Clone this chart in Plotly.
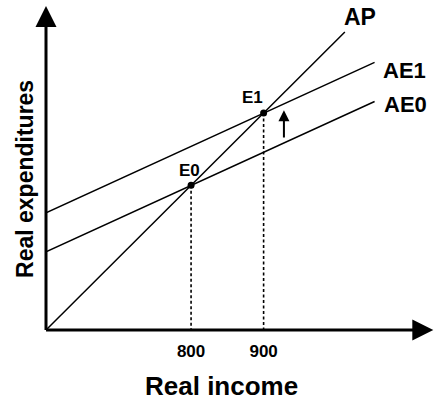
import plotly.graph_objects as go

# Data (schematic units)
ap_x = [600, 1012]
ap_y = [600, 1012]
ae_x = [600, 1053]
ae0_y = [708, 916]
ae1_y = [762, 970]
eq_x = [800, 900]
eq_y = [800, 900]
tick_vals = [800, 900]
tick_text = ["800", "900"]
shift_x = 928
shift_from = 864
shift_to = 904

X0, X1 = 600, 1141.8
Y0, Y1 = 600, 1056.3
AX_END_X, AX_END_Y = 1134, 1048

FONT = "Liberation Sans, Arial, sans-serif"

fig = go.Figure()
line_style = dict(color="black", width=1.5)
fig.add_trace(go.Scatter(x=ap_x, y=ap_y, mode="lines", line=line_style, hoverinfo="skip"))
fig.add_trace(go.Scatter(x=ae_x, y=ae0_y, mode="lines", line=line_style, hoverinfo="skip"))
fig.add_trace(go.Scatter(x=ae_x, y=ae1_y, mode="lines", line=line_style, hoverinfo="skip"))
for ex, ey in zip(eq_x, eq_y):
    fig.add_trace(go.Scatter(x=[ex, ex], y=[ey, Y0], mode="lines",
                             line=dict(color="black", width=1.6, dash="3px,2.5px"),
                             hoverinfo="skip"))
fig.add_trace(go.Scatter(x=eq_x, y=eq_y, mode="markers",
                         marker=dict(color="black", size=7), hoverinfo="skip"))

ann = []
# axes with arrows
ann.append(dict(x=AX_END_X, y=Y0, ax=X0 - 2, ay=Y0, xref="x", yref="y", axref="x", ayref="y",
                showarrow=True, arrowhead=2, arrowsize=1.4, arrowwidth=3, arrowcolor="black", text=""))
ann.append(dict(x=X0, y=AX_END_Y, ax=X0, ay=Y0 - 2, xref="x", yref="y", axref="x", ayref="y",
                showarrow=True, arrowhead=2, arrowsize=1.4, arrowwidth=3, arrowcolor="black", text=""))
# shift arrow
ann.append(dict(x=shift_x, y=shift_to, ax=shift_x, ay=shift_from, xref="x", yref="y",
                axref="x", ayref="y", showarrow=True, arrowhead=2, arrowsize=1.1,
                arrowwidth=2, arrowcolor="black", text=""))
# line labels
labels = [("AP", 1033, 1033, 23), ("AE1", 1094, 959, 22), ("AE0", 1096, 912, 22),
          ("E1", 885, 922, 17), ("E0", 798, 821, 17)]
for t, lx, ly, fs in labels:
    ann.append(dict(x=lx, y=ly, xref="x", yref="y", text=f"<b>{t}</b>", showarrow=False,
                    font=dict(family=FONT, size=fs, color="black"),
                    xanchor="center", yanchor="middle"))
# axis titles
ann.append(dict(x=0.4466, y=-0.1697, xref="paper", yref="paper", text="<b>Real income</b>",
                showarrow=False, font=dict(family=FONT, size=26, color="black"),
                xanchor="center", yanchor="middle"))
ann.append(dict(x=-0.054, y=0.457, xref="paper", yref="paper", text="<b>Real expenditures</b>",
                showarrow=False, textangle=-90, font=dict(family=FONT, size=23, color="black"),
                xanchor="center", yanchor="middle"))

fig.update_layout(
    width=439, height=402,
    margin=dict(l=46, r=0, t=0, b=72),
    paper_bgcolor="white", plot_bgcolor="white",
    showlegend=False,
    annotations=ann,
    xaxis=dict(range=[X0, X1], tickvals=tick_vals, ticktext=[f"<b>{t}</b>" for t in tick_text],
               showgrid=False, zeroline=False, showline=False, automargin=False,
               ticks="outside", ticklen=6, tickcolor="rgba(0,0,0,0)",
               tickfont=dict(family=FONT, size=17, color="black"),
               fixedrange=True),
    yaxis=dict(range=[Y0, Y1], showticklabels=False, showgrid=False, zeroline=False,
               showline=False, ticks="", automargin=False,
               fixedrange=True),
)

fig.write_html("out.html", config={"displayModeBar": False},
               post_script="document.body.style.margin='0';document.body.style.overflow='hidden';")
